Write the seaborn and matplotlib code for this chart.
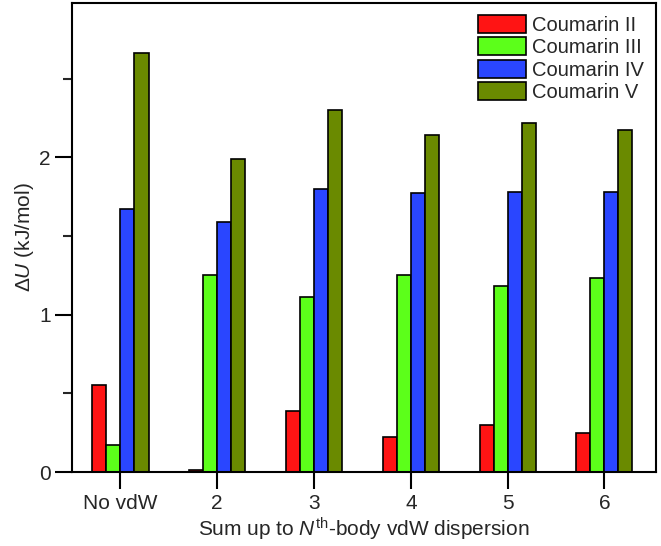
import numpy as np
import pandas as pd
import matplotlib
matplotlib.use('Agg')
import matplotlib.pyplot as plt
import seaborn as sns
from matplotlib.ticker import MultipleLocator

# Datos
conditions = ['No vdW', '2', '3', '4', '5', '6']
series = ['Coumarin II', 'Coumarin III', 'Coumarin IV', 'Coumarin V']
coumarin_ii = [0.55, 0.01, 0.39, 0.22, 0.30, 0.25]
coumarin_iii = [0.17, 1.25, 1.11, 1.25, 1.18, 1.23]
coumarin_iv = [1.67, 1.59, 1.80, 1.77, 1.78, 1.78]
coumarin_v = [2.66, 1.99, 2.30, 2.14, 2.22, 2.17]
colors = ['#ff1414', '#5cff1a', '#2a46ff', '#6a8a00']

values = [coumarin_ii, coumarin_iii, coumarin_iv, coumarin_v]
df = pd.DataFrame({
    'cond': conditions * len(series),
    'serie': [s for s in series for _ in conditions],
    'val': [v for vals in values for v in vals],
})

sns.set_style('ticks')
plt.rcParams['font.family'] = ['Liberation Sans', 'DejaVu Sans']
plt.rcParams['mathtext.fontset'] = 'custom'
plt.rcParams['mathtext.rm'] = 'Liberation Sans'
plt.rcParams['mathtext.it'] = 'Liberation Sans:italic'

fig = plt.figure(figsize=(6.61, 5.46), dpi=100)
ax = fig.add_axes([0.109, 0.1355, 0.883, 0.859])

sns.barplot(data=df, x='cond', y='val', hue='serie', palette=colors,
            saturation=1, width=0.58, edgecolor='black', linewidth=1.2, ax=ax)

ax.set_xlim(-0.5, 5.53)
ax.set_ylim(0, 2.98)
ax.yaxis.set_major_locator(MultipleLocator(1))
ax.yaxis.set_minor_locator(MultipleLocator(0.5))
ax.tick_params(axis='both', which='major', direction='out', length=12.5,
               width=1.5, labelsize=15, color='black', pad=3)
ax.tick_params(axis='y', which='minor', direction='out', length=6.5, width=1.5)
for sp in ax.spines.values():
    sp.set_linewidth(1.5)
    sp.set_color('black')

ax.set_ylabel(r'Δ$\mathit{U}$ (kJ/mol)', fontsize=15, labelpad=2)
ax.set_xlabel(r'Sum up to $\mathit{N}^{\mathrm{th}}$-body vdW dispersion', fontsize=15, labelpad=2)

leg = ax.legend(loc='upper right', frameon=False, fontsize=14.5,
                handlelength=2.35, handleheight=1.0, labelspacing=0.12,
                handletextpad=0.3, borderaxespad=0.2)

plt.savefig('out.png', dpi=100)
plt.close()
